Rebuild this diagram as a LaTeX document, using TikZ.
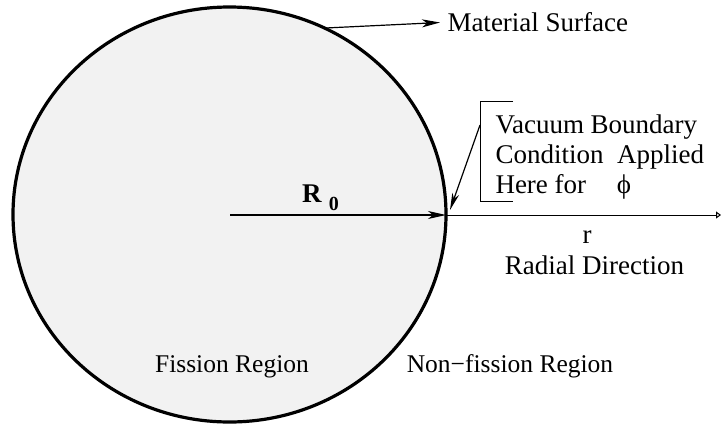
\documentclass[tikz,border=0pt]{standalone}
\usepackage{fontspec}
\setmainfont{Liberation Serif}
\usetikzlibrary{arrows.meta,shapes.geometric}
\tikzset{
  lbl/.style={inner sep=0pt, outer sep=0pt, font=\fontsize{27}{30}\selectfont},
  lblsmall/.style={inner sep=0pt, outer sep=0pt, font=\fontsize{25.5}{30}\selectfont},
  thin line/.style={line width=1.2pt},
  bigtip/.style={-{Stealth[length=18pt,width=8pt,inset=5pt]}},
}
\begin{document}
\begin{tikzpicture}[x=1pt,y=-1pt]
\useasboundingbox (0,0) rectangle (722,426);
% material region
\node (circ) [ellipse, draw, line width=3.2pt, fill={rgb,255:red,242;green,242;blue,242},
  minimum width=433pt, minimum height=415pt, inner sep=0pt, outer sep=0pt] at (229.5,214.5) {};
% centre coordinate and axis
\coordinate (ctr) at (230,215);
\coordinate (rend) at (721,215);
\coordinate (redge) at (446,215);
\draw[thin line, bigtip] (ctr) -- (redge);
\draw[line width=1pt, -{Triangle[open,length=5pt,width=7pt]}] (redge) -- (rend);
% R0 label
\node (r0) [inner sep=0pt, anchor=base west] at (302,202)
  {\fontsize{27}{30}\selectfont\textbf{R}\hspace{7pt}\raisebox{-8pt}{\fontsize{20}{20}\selectfont\textbf{0}}};
% Material surface
\node (ms) [lbl, anchor=base west] at (447.5,31) {Material Surface};
\draw[thin line, bigtip] (circ.63.9) -- (440,22.5);
% bracket and vacuum text
\coordinate (bt) at (480,101);
\coordinate (bb) at (480,201);
\coordinate (btr) at (513,101);
\coordinate (bbr) at (513,201);
\coordinate (bs) at (480,125);
\coordinate (bend) at (450,210);
\draw[line width=1pt] (btr) -- (bt) -- (bb) -- (bbr);
\draw[thin line, -{Stealth[length=17pt,width=7pt,inset=5pt]}] (bs) -- (bend);
\node (v1) [lbl, anchor=base west] at (495.5,133) {Vacuum Boundary};
\node (v2) [lbl, anchor=base west] at (495.5,163) {Condition\ \ Applied};
\node (v3) [lbl, anchor=base west] at (495.5,193) {Here for};
\node (phi) [lbl, anchor=base] at (624,193) {ϕ};
% radial labels
\node (rr) [lbl, anchor=base] at (587,243) {r};
\node (rd) [lbl, anchor=base] at (594.5,274) {Radial Direction};
% regions
\node (fr) [lblsmall, anchor=base] at (232,372) {Fission Region};
\node (nfr) [lblsmall, anchor=base] at (510,372) {Non−fission Region};
\end{tikzpicture}
\end{document}
